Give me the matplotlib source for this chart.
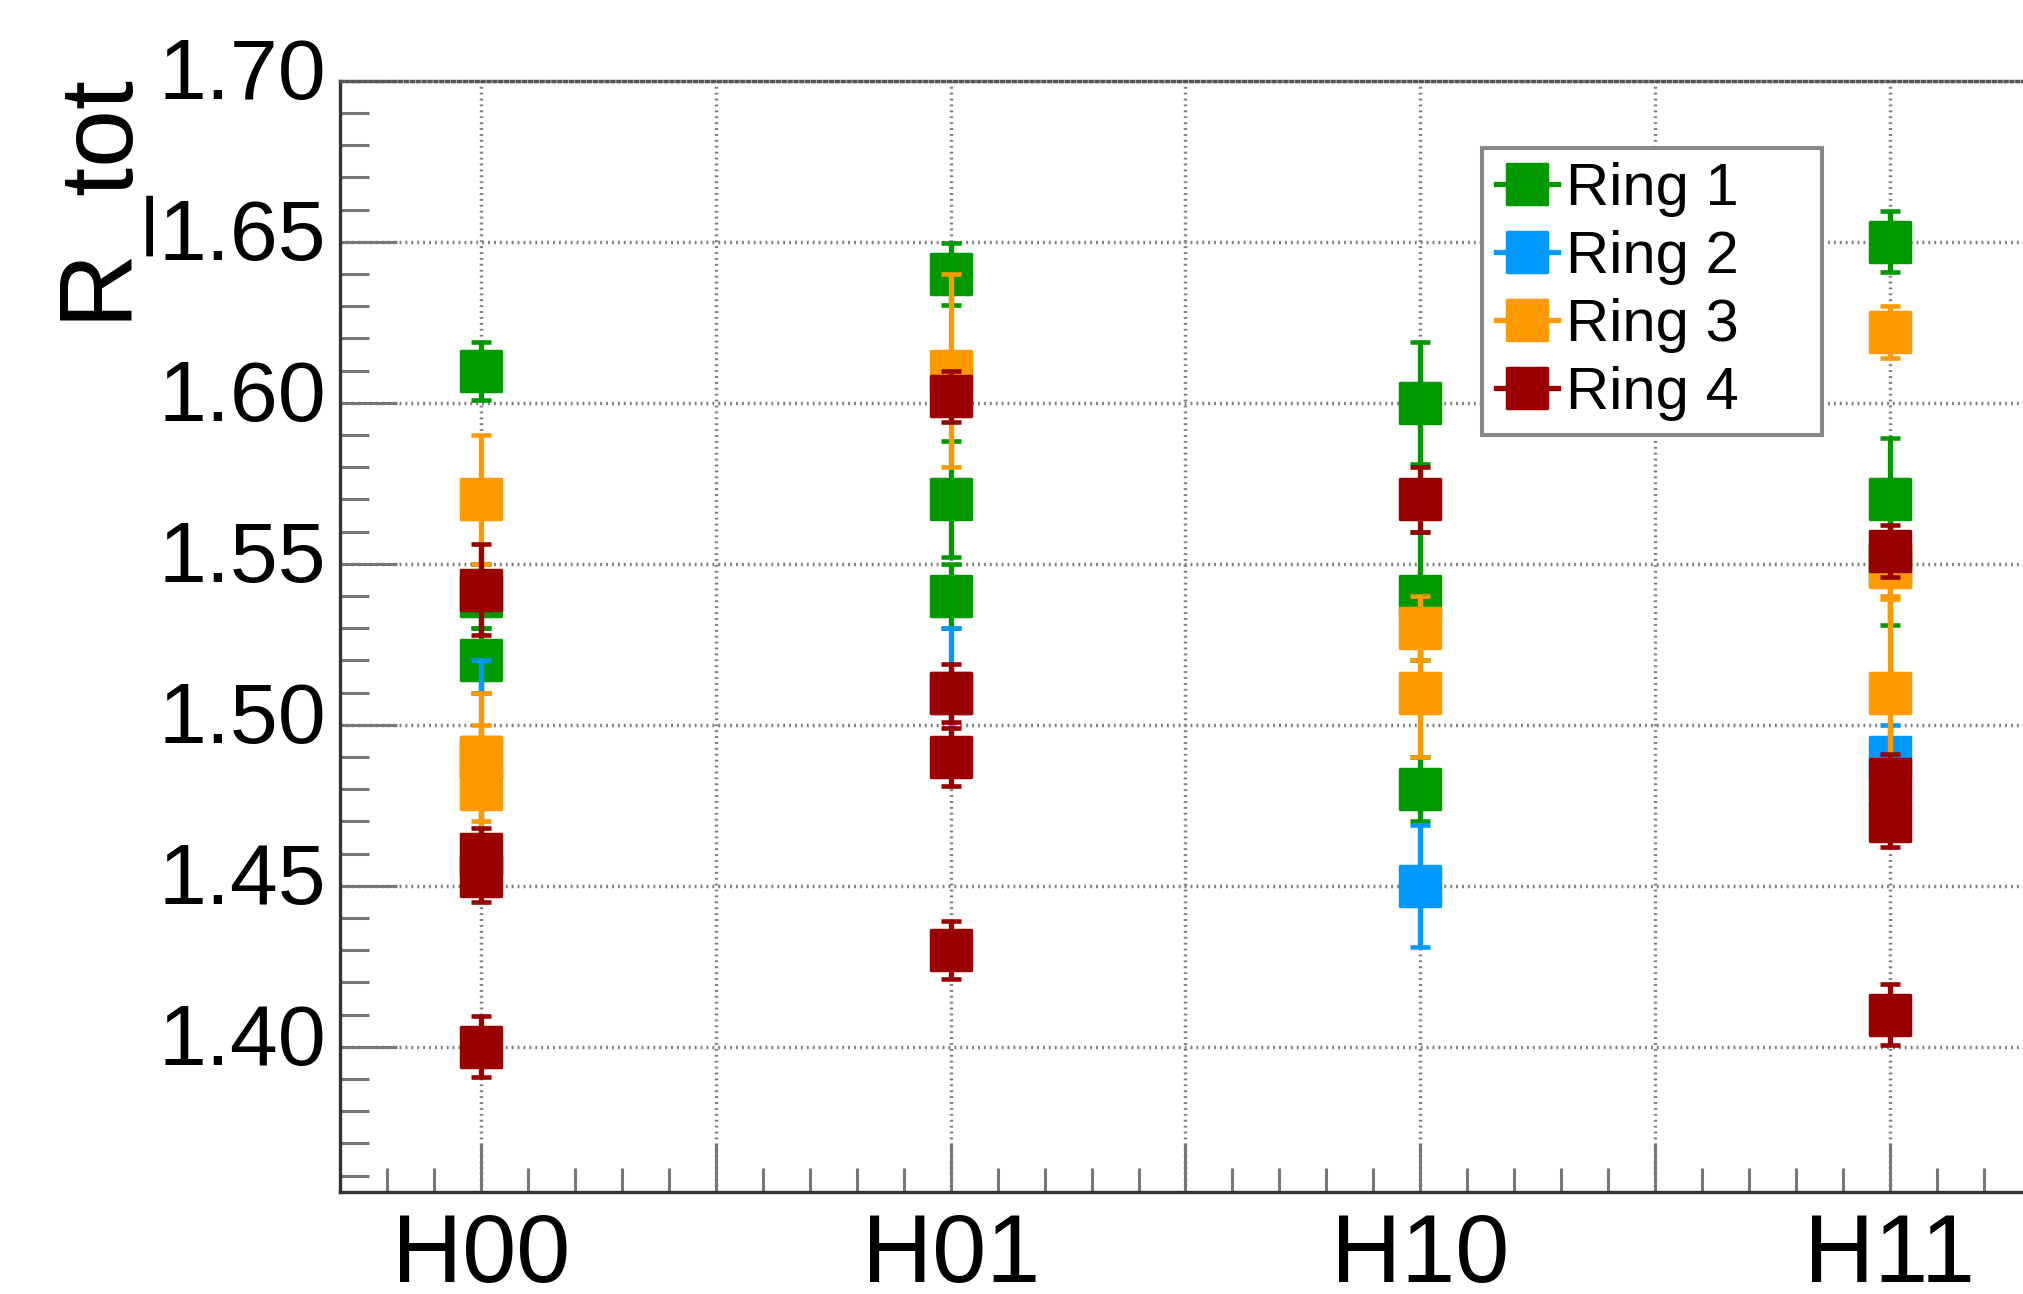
# %% IMPORTS
import numpy as np
import matplotlib
matplotlib.use("Agg")
import matplotlib.pyplot as plt
import matplotlib.transforms as mtransforms
from matplotlib.lines import Line2D
from matplotlib.markers import MarkerStyle
from matplotlib.ticker import FixedLocator, MultipleLocator, FixedFormatter

plt.rcParams['font.family'] = ['Liberation Sans', 'DejaVu Sans']
plt.rcParams['ytick.alignment'] = 'center'

# %% DATA
categories = ["H00", "H01", "H10", "H11"]
cat_ticks = [0.0, 0.5, 1.0, 1.5, 2.0, 2.5, 3.0]
cat_labels = ["H00", "", "H01", "", "H10", "", "H11"]
y_ticks = [1.40, 1.45, 1.50, 1.55, 1.60, 1.65, 1.70]

ring_names = ["Ring 1", "Ring 2", "Ring 3", "Ring 4"]
ring_colors = ["#009900", "#0099ff", "#ff9900", "#990000"]

# Ring 1 (green)
ring1_x = [0, 0, 0, 1, 1, 1, 2, 2, 2, 3, 3, 3]
ring1_y = [1.610, 1.540, 1.520, 1.640, 1.570, 1.540, 1.600, 1.540, 1.480, 1.650, 1.570, 1.550]
ring1_e = [0.009, 0.010, 0.010, 0.0095, 0.018, 0.010, 0.019, 0.020, 0.010, 0.0095, 0.019, 0.019]

# Ring 2 (blue)
ring2_x = [0, 1, 2, 3]
ring2_y = [1.490, 1.510, 1.450, 1.490]
ring2_e = [0.030, 0.020, 0.019, 0.010]

# Ring 3 (orange)
ring3_x = [0, 0, 0, 1, 2, 2, 3, 3, 3]
ring3_y = [1.570, 1.490, 1.480, 1.610, 1.530, 1.510, 1.622, 1.549, 1.510]
ring3_e = [0.020, 0.020, 0.020, 0.030, 0.010, 0.020, 0.008, 0.010, 0.030]

# Ring 4 (dark red)
ring4_x = [0, 0, 0, 0, 1, 1, 1, 1, 2, 3, 3, 3, 3]
ring4_y = [1.542, 1.460, 1.453, 1.400, 1.602, 1.510, 1.490, 1.430, 1.570, 1.554, 1.483, 1.470, 1.410]
ring4_e = [0.014, 0.008, 0.008, 0.0095, 0.008, 0.009, 0.009, 0.009, 0.010, 0.008, 0.008, 0.008, 0.0095]

rings_x = [ring1_x, ring2_x, ring3_x, ring4_x]
rings_y = [ring1_y, ring2_y, ring3_y, ring4_y]
rings_e = [ring1_e, ring2_e, ring3_e, ring4_e]

# %% PLOT
fig = plt.figure(figsize=(20.23, 12.94), dpi=100)
ax = fig.add_axes([0.1683, 0.0791, 0.8354, 0.8585])

sq = MarkerStyle('s', joinstyle='round')
for i in range(4):
    c = ring_colors[i]
    ax.errorbar(rings_x[i], rings_y[i], yerr=rings_e[i], fmt='none', ecolor=c,
                elinewidth=3.8, capsize=7.4, capthick=3.3, zorder=10 + 2 * i)
    ax.plot(rings_x[i], rings_y[i], linestyle='none', marker=sq, markersize=28.5,
            markerfacecolor=c, markeredgecolor=c, markeredgewidth=2.5, zorder=11 + 2 * i)

ax.set_xlim(-0.3, 3.3)
ax.set_ylim(1.355, 1.70)

ax.xaxis.set_major_locator(FixedLocator(cat_ticks))
ax.xaxis.set_major_formatter(FixedFormatter(cat_labels))
ax.xaxis.set_minor_locator(MultipleLocator(0.1))
ax.yaxis.set_major_locator(FixedLocator(y_ticks))
ax.yaxis.set_major_formatter(FixedFormatter(["%.2f" % v for v in y_ticks]))
ax.yaxis.set_minor_locator(MultipleLocator(0.01))

ax.tick_params(axis='both', which='both', direction='in', color='#777777', width=2.2)
ax.tick_params(axis='x', which='major', length=34.5, pad=15, labelsize=70)
ax.tick_params(axis='x', which='minor', length=17)
ax.tick_params(axis='y', which='major', length=41, pad=10.5, labelsize=62)
ax.tick_params(axis='y', which='minor', length=21)

# ROOT-style labels sit a little above their grid line
shift = mtransforms.ScaledTranslation(0, 4 / 100, fig.dpi_scale_trans)
for lab in ax.get_yticklabels():
    lab.set_transform(lab.get_transform() + shift)

ax.grid(True, which='major', linestyle=(0, (0.55, 1.15)), linewidth=2.5, color='#808080')
ax.set_axisbelow(True)

for side in ['left', 'bottom']:
    ax.spines[side].set_linewidth(2.4)
    ax.spines[side].set_color('#333333')
ax.spines['top'].set_linestyle((0, (0.55, 1.15)))
ax.spines['top'].set_linewidth(2.5)
ax.spines['top'].set_color('#555555')
ax.spines['right'].set_visible(False)

ax.set_ylabel("R_tot", fontsize=75, loc='top')
ax.yaxis.set_label_coords(146 / 2023, 0.9455, transform=fig.transFigure)

handles = [Line2D([], [], color=ring_colors[i], linewidth=3.8, marker=sq, markersize=28.5,
                  markerfacecolor=ring_colors[i], markeredgecolor=ring_colors[i],
                  markeredgewidth=2.5) for i in range(4)]
leg = fig.legend(handles, ring_names, loc='upper left',
                 bbox_to_anchor=(1482 / 2023, 1 - 442 / 1294, 340 / 2023, 294 / 1294),
                 mode='expand', borderaxespad=0, fontsize=43, handlelength=1.05,
                 handletextpad=0.12, borderpad=0.23, labelspacing=0.22,
                 fancybox=False, framealpha=1, edgecolor='#888888')
leg.get_frame().set_linewidth(2.9)

plt.savefig('out.png', dpi=100)
